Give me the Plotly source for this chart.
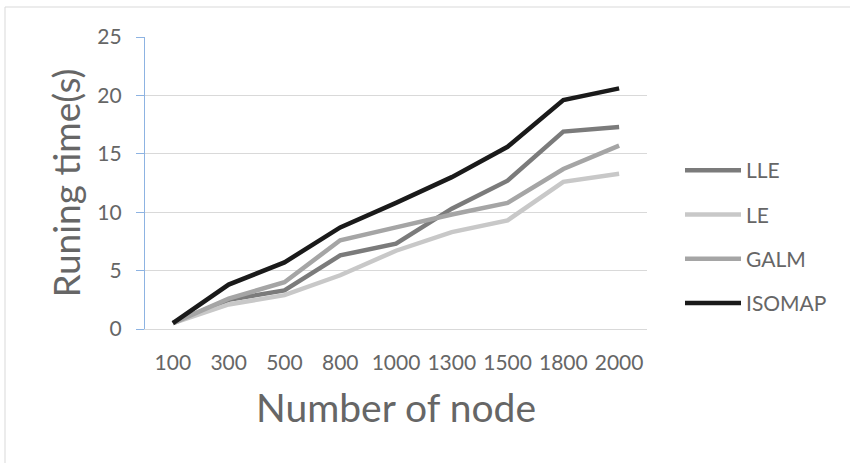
import plotly.graph_objects as go

categories = ["100", "300", "500", "800", "1000", "1300", "1500", "1800", "2000"]
lle = [0.5, 2.5, 3.3, 6.3, 7.3, 10.3, 12.7, 16.9, 17.3]
le = [0.5, 2.1, 2.9, 4.6, 6.7, 8.3, 9.3, 12.6, 13.3]
galm = [0.5, 2.6, 4.0, 7.6, 8.7, 9.8, 10.8, 13.7, 15.7]
isomap = [0.5, 3.8, 5.7, 8.7, 10.8, 13.0, 15.6, 19.6, 20.6]
y_ticks = [0, 5, 10, 15, 20, 25]

series = [
    ("LLE", lle, "#7b7b7b"),
    ("LE", le, "#c8c8c8"),
    ("GALM", galm, "#a5a5a5"),
    ("ISOMAP", isomap, "#1a1a1a"),
]

FONT = "Lato"
TXT = "#666666"

fig = go.Figure()
for name, vals, color in series:
    fig.add_trace(go.Scatter(
        x=categories, y=vals, name=name, mode="lines",
        line=dict(color=color, width=4.5),
        legendgroup=name,
    ))

W, H = 850, 463
L, R, T, B = 145, 203, 37, 134
pw = W - L - R
ph = H - T - B

def px2x(p):
    return (p - L) / pw

def px2y(p):
    return (H - B - p) / ph

fig.update_layout(
    width=W, height=H,
    margin=dict(l=L, r=R, t=T, b=B),
    paper_bgcolor="white", plot_bgcolor="white",
    font=dict(family=FONT, color=TXT, size=21),
    showlegend=True,
    legend=dict(
        x=px2x(680), xanchor="left",
        y=px2y(237), yanchor="middle",
        font=dict(size=21, color=TXT),
        tracegroupgap=14,
        itemwidth=56,
        bgcolor="rgba(0,0,0,0)",
    ),
    xaxis=dict(
        type="category",
        range=[-0.5, len(categories) - 0.5],
        showgrid=False,
        showline=True, linecolor="#d9d9d9", linewidth=1,
        ticks="",
        ticklabelstandoff=15,
        tickfont=dict(size=21, color=TXT),
        title=dict(text="Number of node", font=dict(size=39, color=TXT), standoff=21),
    ),
    yaxis=dict(
        range=[0, 25],
        tickvals=y_ticks,
        showgrid=True, gridcolor="#d9d9d9", gridwidth=1,
        showline=True, linecolor="#8db3e2", linewidth=1.2,
        ticks="outside", ticklen=8, tickcolor="#8db3e2",
        ticklabelstandoff=10,
        tickfont=dict(size=21, color=TXT),
        zeroline=False,
        title=dict(text="Runing time(s)", font=dict(size=37, color=TXT), standoff=5),
    ),
    shapes=[dict(
        type="rect", xref="paper", yref="paper",
        x0=px2x(5), x1=px2x(860), y0=px2y(480), y1=px2y(7),
        line=dict(color="#d9d9d9", width=1), fillcolor="rgba(0,0,0,0)",
        layer="below",
    )],
)

fig.write_html("out.html")
